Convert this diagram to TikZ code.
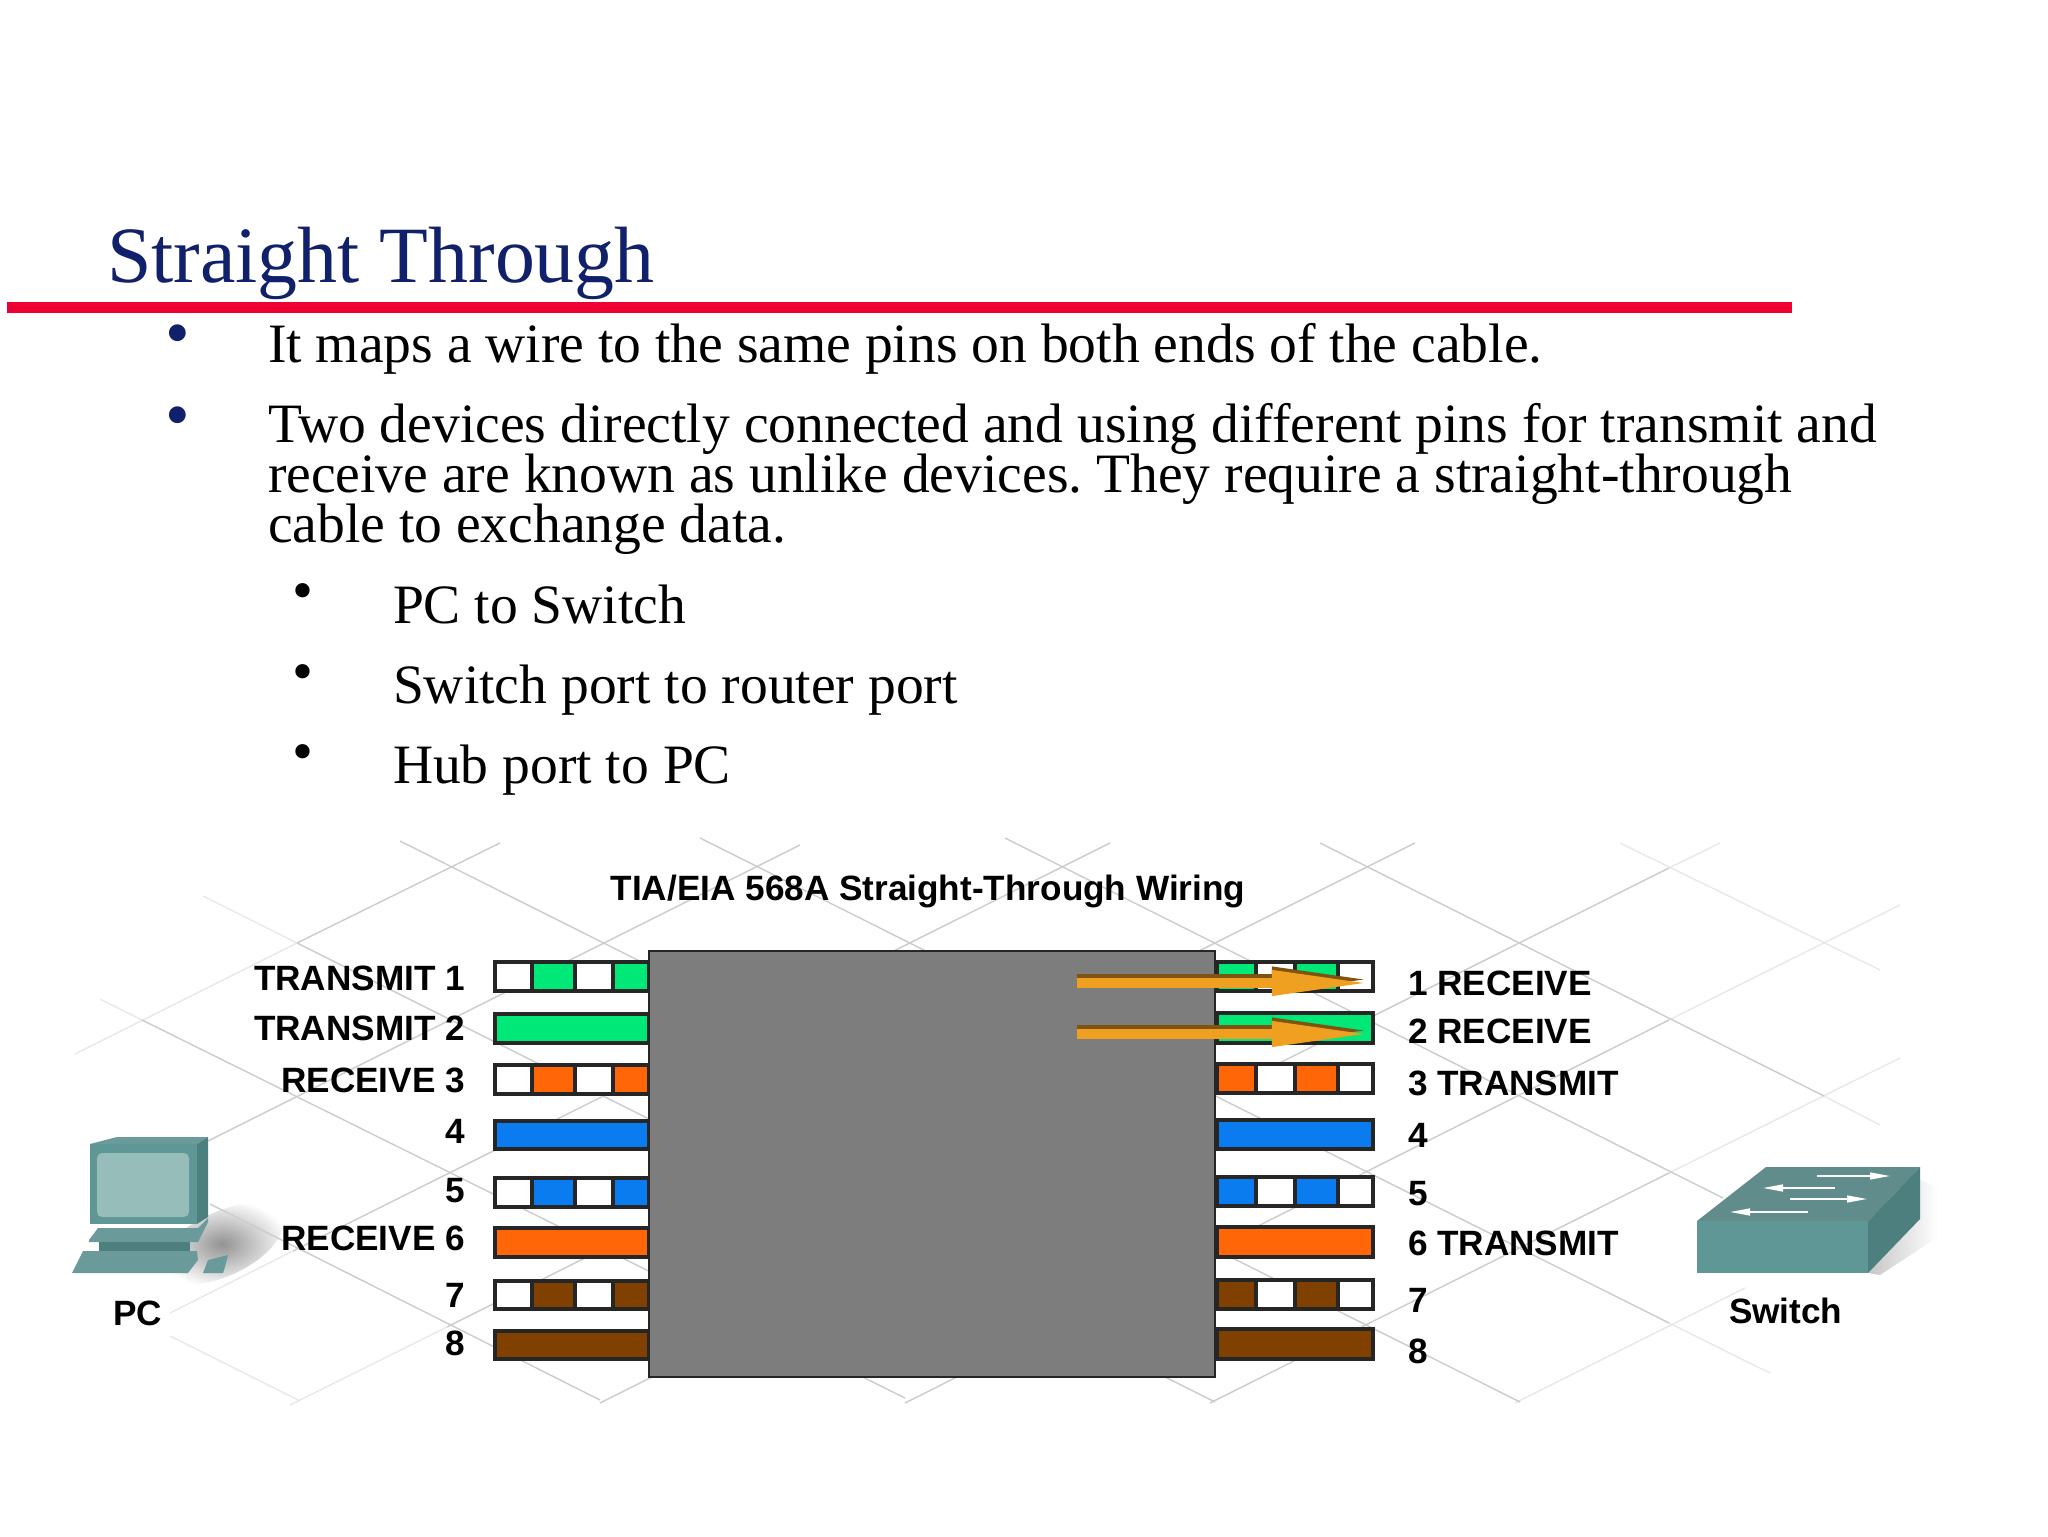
\documentclass[tikz,border=0pt]{standalone}
\usepackage{fontspec}
\setmainfont{Liberation Serif}
\newfontfamily\labelfont{Liberation Sans}
\usetikzlibrary{arrows.meta}
\frenchspacing
\definecolor{navytext}{HTML}{10206A}
\definecolor{redline}{HTML}{EE0033}
\definecolor{wiregreen}{HTML}{00E878}
\definecolor{wireorange}{HTML}{FF6608}
\definecolor{wireblue}{HTML}{0A7CF0}
\definecolor{wirebrown}{HTML}{804000}
\definecolor{arroworange}{HTML}{F0A020}
\definecolor{arrowdark}{HTML}{7F5410}
\definecolor{tealfront}{HTML}{5F9696}
\definecolor{tealtop}{HTML}{6A9A9A}
\definecolor{tealside}{HTML}{4E7F7F}
\definecolor{tealscreen}{HTML}{96BDB9}

\begin{document}
\begin{tikzpicture}[x=0.01cm,y=-0.01cm]
        % Define the styles
        \tikzset{
            every node/.style={inner sep=0pt,outer sep=0pt},
            slidetext/.style={anchor=base west,align=left,font=\fontsize{15.8}{14.3}\selectfont,execute at begin node={\lineskiplimit=-10pt\relax}},
            wirelabel/.style={font=\labelfont\bfseries\fontsize{10}{12}\selectfont},
            leftlabel/.style={wirelabel,anchor=base east},
            rightlabel/.style={wirelabel,anchor=base west},
            barline/.style={draw=black!85,line width=0.9pt},
            gridline/.style={draw=gray!40,line width=0.4pt},
            gridfaint/.style={draw=gray!18,line width=0.4pt},
            wirearrow/.style={line width=0.1cm,-{Triangle[length=1cm,width=0.23cm]}},
            portarrow/.style={draw=white,line width=0.4pt,-{Triangle[length=0.2cm,width=0.07cm]}}
        }

        % Page
        \useasboundingbox (0,0) rectangle (2048,1537);
        \fill[white] (0,0) rectangle (2048,1537);

        % Title and text
        \node[anchor=base west,text=navytext,font=\fontsize{22.7}{26}\selectfont] (title) at (107,283) {Straight Through};
        \fill[redline] (7,302) rectangle (1792,313);
        \node[text=navytext,font=\fontsize{20}{20}\selectfont] (dot1) at (178,341) {•};
        \node[slidetext] (item1) at (268,363) {It maps a wire to the same pins on both ends of the cable.};
        \node[text=navytext,font=\fontsize{20}{20}\selectfont] (dot2) at (178,423) {•};
        \node[slidetext,anchor=north west] (item2) at (268,403) {Two devices directly connected and using different pins for transmit and\\receive are known as unlike devices. They require a straight-through\\cable to exchange data.};
        \node[font=\fontsize{17}{17}\selectfont] (dot3) at (303,597) {•};
        \node[slidetext] (sub1) at (393,624) {PC to Switch};
        \node[font=\fontsize{17}{17}\selectfont] (dot4) at (303,678) {•};
        \node[slidetext] (sub2) at (393,704) {Switch port to router port};
        \node[font=\fontsize{17}{17}\selectfont] (dot5) at (303,758) {•};
        \node[slidetext] (sub3) at (393,784) {Hub port to PC};

        % Shadows
        \shade[inner color=gray!85,outer color=white,shift={(222,1244)},rotate=25] (0,0) ellipse [x radius=0.66cm,y radius=0.32cm];
        \shade[left color=gray!45,right color=white] (1905,1173) -- (1938,1188) -- (1938,1237) -- (1880,1275) -- (1868,1273) -- cycle;

        % Background grid
        \draw[gridline] (500,843) -- (297,943);
        \draw[gridfaint] (297,943) -- (75,1054);
        \draw[gridline] (800,845) -- (200,1145);
        \draw[gridline] (1110,843) -- (293,1251);
        \draw[gridfaint] (293,1251) -- (170,1313);
        \draw[gridline] (1415,843) -- (447,1327);
        \draw[gridfaint] (447,1327) -- (290,1405);
        \draw[gridfaint] (1720,843) -- (1669,868);
        \draw[gridline] (1669,868) -- (600,1403);
        \draw[gridfaint] (1900,905) -- (1669,1020);
        \draw[gridline] (1669,1020) -- (905,1403);
        \draw[gridfaint] (1900,1058) -- (1669,1173);
        \draw[gridline] (1669,1173) -- (1210,1403);
        \draw[gridfaint] (1745,1288) -- (1515,1403);
        \draw[gridline] (400,841) -- (1520,1402);
        \draw[gridfaint] (203,896) -- (297,943);
        \draw[gridline] (297,943) -- (1215,1402);
        \draw[gridfaint] (100,999) -- (142,1020);
        \draw[gridline] (142,1020) -- (905,1398);
        \draw[gridline] (210,1204) -- (600,1400);
        \draw[gridfaint] (170,1336) -- (300,1401);
        \draw[gridline] (700,838) -- (1669,1323);
        \draw[gridfaint] (1669,1323) -- (1770,1373);
        \draw[gridline] (1005,838) -- (1723,1198);
        \draw[gridline] (1320,843) -- (1824,1096);
        \draw[gridfaint] (1824,1096) -- (1880,1125);
        \draw[gridfaint] (1620,843) -- (1880,970);

        % Wiring title
        \node[wirelabel,anchor=base] (wiring) at (928,901) {TIA/EIA 568A Straight-Through Wiring};

        % Left bars
        \draw[barline,fill=white] (495,962) rectangle (649,991);
        \draw[barline,fill=wiregreen] (532,962) rectangle (575,991);
        \draw[barline,fill=wiregreen] (613,962) rectangle (649,991);
        \draw[barline,fill=wiregreen] (495,1014) rectangle (649,1043);
        \draw[barline,fill=white] (495,1065) rectangle (649,1094);
        \draw[barline,fill=wireorange] (532,1065) rectangle (575,1094);
        \draw[barline,fill=wireorange] (613,1065) rectangle (649,1094);
        \draw[barline,fill=wireblue] (495,1121) rectangle (649,1149);
        \draw[barline,fill=white] (495,1178) rectangle (649,1207);
        \draw[barline,fill=wireblue] (532,1178) rectangle (575,1207);
        \draw[barline,fill=wireblue] (613,1178) rectangle (649,1207);
        \draw[barline,fill=wireorange] (495,1228) rectangle (649,1257);
        \draw[barline,fill=white] (495,1281) rectangle (649,1309);
        \draw[barline,fill=wirebrown] (532,1281) rectangle (575,1309);
        \draw[barline,fill=wirebrown] (613,1281) rectangle (649,1309);
        \draw[barline,fill=wirebrown] (495,1331) rectangle (649,1359);

        % Right bars
        \draw[barline,fill=white] (1217,962) rectangle (1373,991);
        \draw[barline,fill=wiregreen] (1217,962) rectangle (1256,991);
        \draw[barline,fill=wiregreen] (1295,962) rectangle (1338,991);
        \draw[barline,fill=wiregreen] (1217,1013) rectangle (1373,1043);
        \draw[barline,fill=white] (1217,1064) rectangle (1373,1093);
        \draw[barline,fill=wireorange] (1217,1064) rectangle (1256,1093);
        \draw[barline,fill=wireorange] (1295,1064) rectangle (1338,1093);
        \draw[barline,fill=wireblue] (1217,1120) rectangle (1373,1149);
        \draw[barline,fill=white] (1217,1177) rectangle (1373,1206);
        \draw[barline,fill=wireblue] (1217,1177) rectangle (1256,1206);
        \draw[barline,fill=wireblue] (1295,1177) rectangle (1338,1206);
        \draw[barline,fill=wireorange] (1217,1227) rectangle (1373,1257);
        \draw[barline,fill=white] (1217,1280) rectangle (1373,1309);
        \draw[barline,fill=wirebrown] (1217,1280) rectangle (1256,1309);
        \draw[barline,fill=wirebrown] (1295,1280) rectangle (1338,1309);
        \draw[barline,fill=wirebrown] (1217,1329) rectangle (1373,1359);

        % Grey block
        \fill[gray!98!black,draw=black!85,line width=0.8pt] (649,951) rectangle (1215,1377);

        % Left labels
        \node[leftlabel] (tx1) at (465,990) {TRANSMIT 1};
        \node[leftlabel] (tx2) at (465,1040) {TRANSMIT 2};
        \node[leftlabel] (rx3) at (465,1092) {RECEIVE 3};
        \node[leftlabel] (pin4) at (465,1143) {4};
        \node[leftlabel] (pin5) at (465,1202) {5};
        \node[leftlabel] (rx6) at (465,1250) {RECEIVE 6};
        \node[leftlabel] (pin7) at (465,1307) {7};
        \node[leftlabel] (pin8) at (465,1355) {8};

        % Right labels
        \node[rightlabel] (rx1) at (1408,995) {1 RECEIVE};
        \node[rightlabel] (rx2) at (1408,1044) {2 RECEIVE};
        \node[rightlabel] (tx3) at (1408,1095) {3 TRANSMIT};
        \node[rightlabel] (pin4r) at (1408,1147) {4};
        \node[rightlabel] (pin5r) at (1408,1205) {5};
        \node[rightlabel] (tx6) at (1408,1255) {6 TRANSMIT};
        \node[rightlabel] (pin7r) at (1408,1312) {7};
        \node[rightlabel] (pin8r) at (1408,1363) {8};

        % Arrows
        \coordinate (tail1) at (1077,983);
        \coordinate (tip1) at (1372,983);
        \coordinate (tail2) at (1077,1034);
        \coordinate (tip2) at (1372,1034);
        \draw[wirearrow,arrowdark] ([yshift=0.035cm]tail1) -- ([yshift=0.035cm]tip1);
        \draw[wirearrow,arroworange] (tail1) -- (tip1);
        \draw[wirearrow,arrowdark] ([yshift=0.035cm]tail2) -- ([yshift=0.035cm]tip2);
        \draw[wirearrow,arroworange] (tail2) -- (tip2);

        % PC
        \fill[tealtop] (90,1144) -- (117,1137) -- (208,1137) -- (197,1144) -- cycle;
        \fill[tealside] (197,1144) -- (208,1137) -- (208,1217) -- (197,1224) -- cycle;
        \fill[tealfront] (90,1144) rectangle (197,1224);
        \fill[tealscreen,rounded corners=0.05cm] (97,1153) rectangle (189,1217);
        \fill[tealtop] (89,1240) -- (98,1228) -- (198,1228) -- (208,1218) -- (208,1222) -- (198,1242) -- (89,1242) -- cycle;
        \fill[tealside] (99,1242) rectangle (190,1251);
        \fill[tealtop] (72,1273) -- (83,1251) -- (197,1251) -- (198,1260) -- (188,1273) -- cycle;
        \fill[tealtop] (203,1273) -- (208,1260) -- (228,1255) -- (225,1267) -- (223,1273) -- cycle;
        \node[wirelabel,anchor=base west] (pc) at (113,1325) {PC};

        % Switch
        \fill[tealside!90!white] (1697,1221) -- (1766,1167) -- (1920,1167) -- (1868,1221) -- cycle;
        \fill[tealfront] (1697,1221) rectangle (1868,1273);
        \fill[tealside] (1868,1221) -- (1920,1167) -- (1920,1219) -- (1868,1273) -- cycle;
        \draw[portarrow] (1817,1176) -- (1890,1176);
        \draw[portarrow] (1835,1188) -- (1763,1188);
        \draw[portarrow] (1790,1199) -- (1867,1199);
        \draw[portarrow] (1808,1212) -- (1730,1212);
        \node[wirelabel,anchor=base west] (switch) at (1729,1323) {Switch};
\end{tikzpicture}
\end{document}
